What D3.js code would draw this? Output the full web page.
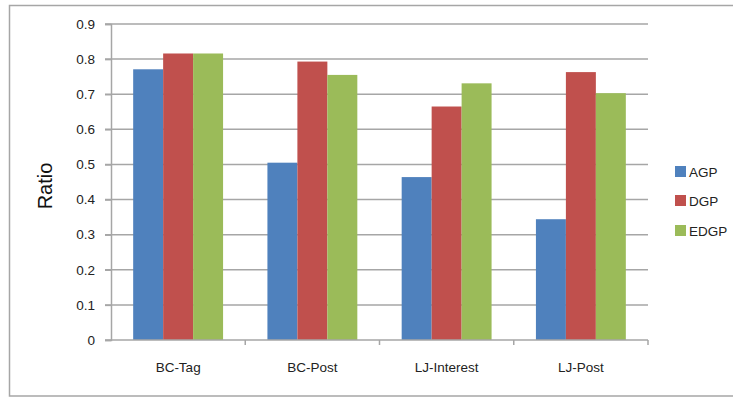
<!DOCTYPE html>
<html>
<head>
<meta charset="utf-8">
<script src="https://cdn.jsdelivr.net/npm/d3@7"></script>
<style>
  html, body { margin: 0; padding: 0; background: #fff; }
  svg { display: block; font-family: "Liberation Sans", Arial, sans-serif; }
</style>
</head>
<body>
<svg id="chart" width="733" height="397"></svg>
<script>
// Datasets along the x axis
const categories = ["BC-Tag", "BC-Post", "LJ-Interest", "LJ-Post"];
// One series per method
const seriesNames = ["AGP", "DGP", "EDGP"];
const agp  = [0.771, 0.505, 0.464, 0.344];
const dgp  = [0.816, 0.793, 0.665, 0.763];
const edgp = [0.816, 0.755, 0.731, 0.703];
const yTicks = [0, 0.1, 0.2, 0.3, 0.4, 0.5, 0.6, 0.7, 0.8, 0.9];
const colors = ["#4F81BD", "#C0504D", "#9BBB59"];

const seriesValues = [agp, dgp, edgp];

const svg = d3.select("#chart");
const plot = { left: 111, right: 648, top: 24, bottom: 340 };

// Outer frame of the chart area
svg.append("rect")
  .attr("x", 9.5).attr("y", 5.5)
  .attr("width", 740).attr("height", 390.5)
  .attr("fill", "none").attr("stroke", "#a6a6a6").attr("stroke-width", 1.5);

const x0 = d3.scaleBand().domain(categories).range([plot.left, plot.right]).paddingInner(0).paddingOuter(0);
const x1 = d3.scaleBand().domain(seriesNames).range([0, x0.bandwidth()]).paddingInner(0).paddingOuter(0.74);
const y = d3.scaleLinear().domain([0, 0.9]).range([plot.bottom, plot.top]);

// Horizontal gridlines
svg.append("g")
  .selectAll("line")
  .data(yTicks.filter(t => t > 0))
  .join("line")
  .attr("x1", plot.left - 6).attr("x2", plot.right)
  .attr("y1", d => y(d)).attr("y2", d => y(d))
  .attr("stroke", "#a6a6a6").attr("stroke-width", 1.5);

// Bars
const groups = svg.append("g")
  .selectAll("g")
  .data(categories)
  .join("g")
  .attr("transform", d => `translate(${x0(d)},0)`);

groups.selectAll("rect")
  .data((d, i) => seriesNames.map((s, j) => ({ s, j, v: seriesValues[j][i] })))
  .join("rect")
  .attr("x", d => x1(d.s))
  .attr("width", x1.bandwidth())
  .attr("y", d => y(d.v))
  .attr("height", d => y(0) - y(d.v))
  .attr("fill", d => colors[d.j]);

// Y axis
const yAxis = svg.append("g")
  .attr("transform", `translate(${plot.left},0)`)
  .call(d3.axisLeft(y).tickValues(yTicks).tickFormat(d3.format("")).tickSize(6).tickPadding(10));
yAxis.select(".domain").attr("stroke", "#a6a6a6").attr("stroke-width", 1.5);
yAxis.selectAll(".tick line").attr("stroke", "#a6a6a6").attr("stroke-width", 1.5);
yAxis.selectAll("text").attr("font-size", 13.5).attr("fill", "#222");

// X axis
const xAxis = svg.append("g")
  .attr("transform", `translate(0,${plot.bottom})`)
  .call(d3.axisBottom(x0).tickSize(0).tickPadding(22));
xAxis.select(".domain").remove();
xAxis.selectAll("text").attr("font-size", 13.5).attr("fill", "#222");
svg.append("line")
  .attr("x1", plot.left - 6).attr("x2", plot.right)
  .attr("y1", plot.bottom).attr("y2", plot.bottom)
  .attr("stroke", "#a6a6a6").attr("stroke-width", 1.5);
// Category separator ticks
svg.append("g")
  .selectAll("line")
  .data(categories.map(c => x0(c) + x0.bandwidth()))
  .join("line")
  .attr("x1", d => d).attr("x2", d => d)
  .attr("y1", plot.bottom).attr("y2", plot.bottom + 5)
  .attr("stroke", "#a6a6a6").attr("stroke-width", 1.5);

// Y axis title
svg.append("text")
  .attr("transform", "translate(52,186) rotate(-90)")
  .attr("text-anchor", "middle")
  .attr("font-size", 20)
  .attr("fill", "#111")
  .text("Ratio");

// Legend
const legend = svg.append("g").attr("transform", "translate(675,0)");
const legendY = [172, 201, 231];
seriesNames.forEach((s, i) => {
  legend.append("rect")
    .attr("x", 0).attr("y", legendY[i] - 6)
    .attr("width", 11).attr("height", 11)
    .attr("fill", colors[i]);
  legend.append("text")
    .attr("x", 14).attr("y", legendY[i])
    .attr("dy", "0.36em")
    .attr("font-size", 13.5)
    .attr("fill", "#222")
    .text(s);
});
</script>
</body>
</html>
